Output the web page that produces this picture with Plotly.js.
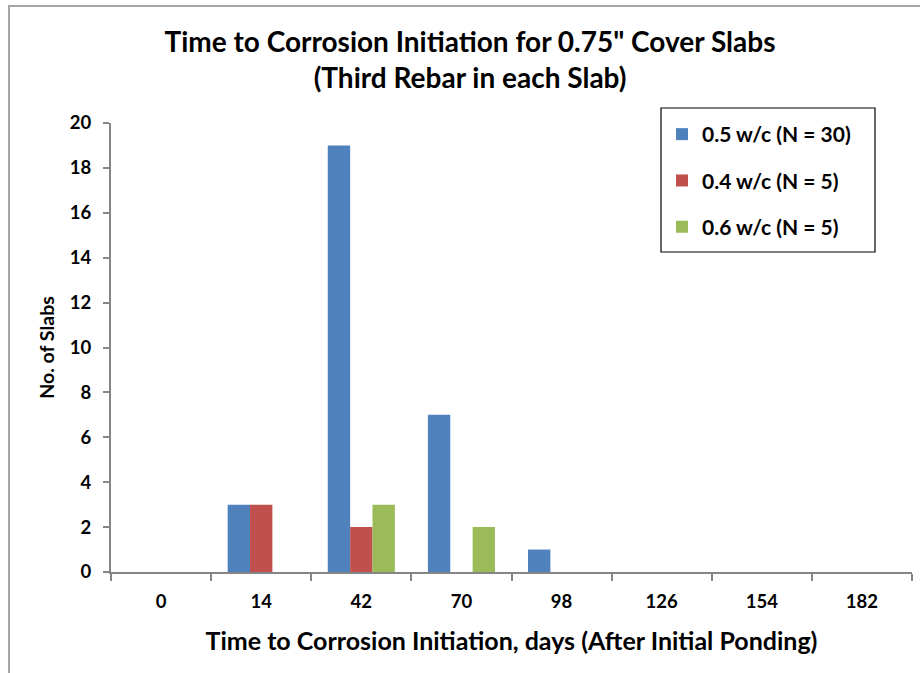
<!DOCTYPE html>
<html>
<head>
<meta charset="utf-8">
<script src="https://cdn.plot.ly/plotly-3.0.1.min.js"></script>
<style>
html,body{margin:0;padding:0;background:#fff;}
#chart{width:920px;height:673px;}
</style>
</head>
<body>
<div id="chart"></div>
<script>
// ---- data ----
const categories = ["0", "14", "42", "70", "98", "126", "154", "182"];
const series05 = [0, 3, 19, 7, 1, 0, 0, 0];
const series04 = [0, 3, 2, 0, 0, 0, 0, 0];
const series06 = [0, 0, 3, 2, 0, 0, 0, 0];
const seriesNames = ["0.5 w/c (N = 30)", "0.4 w/c (N = 5)", "0.6 w/c (N = 5)"];
const yTickVals = [0, 2, 4, 6, 8, 10, 12, 14, 16, 18, 20];

// ---- layout helpers (pixel -> paper) ----
const W = 920, H = 673;
const M = {l: 111, r: 8, t: 123, b: 101};
const PW = W - M.l - M.r, PH = H - M.t - M.b;
const px = x => (x - M.l) / PW;
const py = y => (H - M.b - y) / PH;

const FONT = "Lato, 'Open Sans', sans-serif";
const colors = ["#4f81bd", "#c0504d", "#9bbb59"];
const allSeries = [series05, series04, series06];

const traces = allSeries.map((vals, i) => ({
  type: "bar",
  name: seriesNames[i],
  x: categories,
  y: vals,
  marker: {color: colors[i], line: {width: 0}},
  legendgroup: "g" + i,
  hoverinfo: "x+y+name"
}));

const layout = {
  width: W, height: H,
  margin: M,
  paper_bgcolor: "#ffffff",
  plot_bgcolor: "#ffffff",
  font: {family: FONT, color: "#000000", size: 18, weight: "bold"},
  title: {
    text: "<b>Time to Corrosion Initiation for 0.75\" Cover Slabs<br>(Third Rebar in each Slab)</b>",
    font: {family: FONT, size: 28, color: "#000000"},
    x: 470 / W, xanchor: "center", xref: "container",
    y: 1 - 52 / H, yanchor: "top", yref: "container"
  },
  barmode: "group",
  bargap: 0.33,
  bargroupgap: 0,
  xaxis: {
    type: "category",
    categoryorder: "array",
    categoryarray: categories,
    tickson: "boundaries",
    ticks: "outside",
    ticklen: 7,
    tickwidth: 2,
    tickcolor: "#868686",
    showline: true,
    linecolor: "#868686",
    linewidth: 2,
    showgrid: false,
    zeroline: false,
    ticklabelstandoff: 12,
    tickfont: {family: FONT, size: 18.5, color: "#000000", weight: "bold"},
    title: {
      text: "<b>Time to Corrosion Initiation, days (After Initial Ponding)</b>",
      font: {family: FONT, size: 25, color: "#000000"},
      standoff: 21
    },
    fixedrange: true
  },
  yaxis: {
    range: [0, 20],
    tickvals: yTickVals,
    ticktext: yTickVals.map(String),
    ticks: "outside",
    ticklen: 6,
    tickwidth: 2,
    tickcolor: "#868686",
    showline: true,
    linecolor: "#868686",
    linewidth: 2,
    showgrid: false,
    zeroline: false,
    ticklabelstandoff: 8,
    tickfont: {family: FONT, size: 18.5, color: "#000000", weight: "bold"},
    title: {
      text: "<b>No. of Slabs</b>",
      font: {family: FONT, size: 19.5, color: "#000000"},
      standoff: 10
    },
    fixedrange: true
  },
  showlegend: true,
  legend: {
    x: px(662), xanchor: "left",
    y: py(114), yanchor: "top",
    bgcolor: "rgba(0,0,0,0)",
    borderwidth: 0,
    traceorder: "grouped",
    tracegroupgap: 16,
    font: {family: FONT, size: 21, color: "#000000", weight: "bold"},
    itemwidth: 30
  },
  shapes: [
    // legend frame
    {type: "rect", xref: "paper", yref: "paper",
     x0: px(661), x1: px(875), y0: py(108), y1: py(252),
     line: {color: "#000000", width: 1.2}, fillcolor: "rgba(255,255,255,1)", layer: "below"},
    // outer chart frame (left & top visible)
    {type: "rect", xref: "paper", yref: "paper",
     x0: px(9), x1: px(940), y0: py(690), y1: py(6),
     line: {color: "#a6a6a6", width: 2}, fillcolor: "rgba(0,0,0,0)", layer: "below"}
  ]
};

Plotly.newPlot("chart", traces, layout, {displayModeBar: false, staticPlot: true});
</script>
</body>
</html>
